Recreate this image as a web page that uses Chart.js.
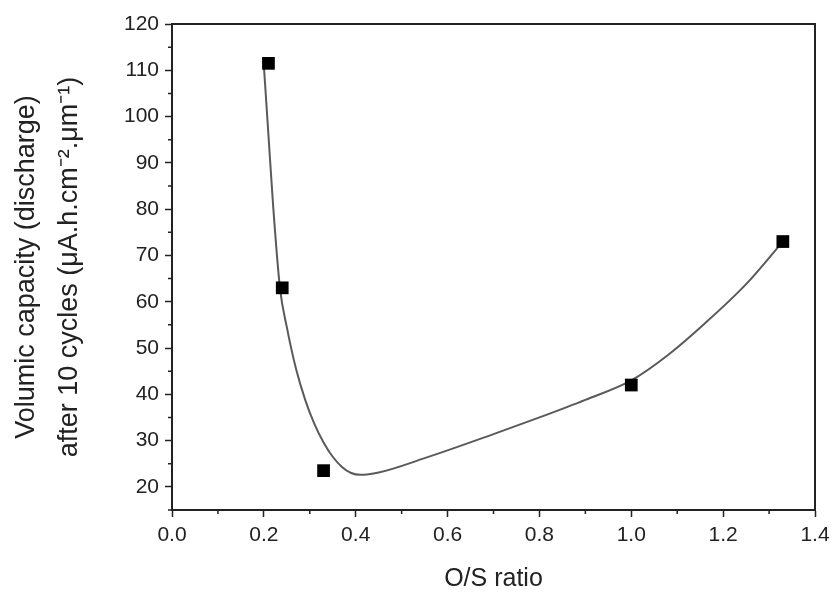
<!DOCTYPE html>
<html lang="en">
  <head>
    <meta charset="UTF-8" />
    <title>Volumic capacity vs O/S ratio</title>
    <script src="https://cdn.jsdelivr.net/npm/chart.js"></script>
    <style>
      html, body { margin: 0; padding: 0; background: #fff; }
      #wrap { width: 836px; height: 599px; }
    </style>
  </head>
  <body>
    <div id="wrap"><canvas id="capChart"></canvas></div>
    <script>
      // measured points
      var osRatio = [0.21, 0.24, 0.33, 1.0, 1.33];
      var capacity = [111.5, 63, 23.5, 42, 73];

      // fitted curve
      var fitX = [0.2, 0.21, 0.22, 0.235, 0.25, 0.27, 0.29, 0.31, 0.33, 0.35, 0.37, 0.39, 0.41, 0.45, 0.55, 0.7, 0.8, 0.9, 1.0, 1.08, 1.16, 1.25, 1.33];
      var fitY = [111, 96, 81, 63, 54.5, 45.5, 38.8, 33.6, 29.6, 26.5, 24.3, 23, 22.6, 23.1, 26.2, 31.4, 35, 38.8, 43, 48.5, 55.3, 63.8, 73];

      // axes
      var xTicks = [0, 0.2, 0.4, 0.6, 0.8, 1.0, 1.2, 1.4];
      var xMinor = [0.1, 0.3, 0.5, 0.7, 0.9, 1.1, 1.3];
      var yTicks = [20, 30, 40, 50, 60, 70, 80, 90, 100, 110, 120];
      var yMinor = [15, 25, 35, 45, 55, 65, 75, 85, 95, 105, 115];

      var font = "'Liberation Sans', Arial, sans-serif";
      var ink = "#222";

      // box around plot + short minor ticks
      var frame = {
        id: "frame",
        afterDraw: function (chart) {
          var ctx = chart.ctx;
          var a = chart.chartArea;
          var xs = chart.scales.x;
          var ys = chart.scales.y;
          ctx.save();
          ctx.strokeStyle = ink;
          ctx.lineWidth = 2;
          ctx.strokeRect(a.left, a.top, a.right - a.left, a.bottom - a.top);
          ctx.lineWidth = 1.5;
          ctx.beginPath();
          xMinor.forEach(function (v) {
            var px = xs.getPixelForValue(v);
            ctx.moveTo(px, a.bottom);
            ctx.lineTo(px, a.bottom + 4);
          });
          yMinor.forEach(function (v) {
            var py = ys.getPixelForValue(v);
            ctx.moveTo(a.left - 4, py);
            ctx.lineTo(a.left, py);
          });
          ctx.stroke();
          ctx.restore();
        },
      };

      var ctx = document.getElementById("capChart").getContext("2d");
      new Chart(ctx, {
        type: "scatter",
        data: {
          datasets: [
            {
              label: "measured",
              data: osRatio.map(function (x, i) { return { x: x, y: capacity[i] }; }),
              pointStyle: "rect",
              pointRadius: 9,
              backgroundColor: "#000",
              borderColor: "#000",
              borderWidth: 0,
              showLine: false,
            },
            {
              label: "fit",
              data: fitX.map(function (x, i) { return { x: x, y: fitY[i] }; }),
              showLine: true,
              pointRadius: 0,
              borderColor: "#5a5a5a",
              borderWidth: 2,
              cubicInterpolationMode: "monotone",
            },
          ],
        },
        options: {
          responsive: true,
          maintainAspectRatio: false,
          animation: false,
          layout: { padding: { top: 24, right: 21, bottom: 4, left: 0 } },
          plugins: { legend: { display: false }, tooltip: { enabled: false } },
          scales: {
            x: {
              type: "linear",
              min: 0,
              max: 1.4,
              afterBuildTicks: function (s) {
                s.ticks = xTicks.map(function (v) { return { value: v }; });
              },
              afterFit: function (s) { s.height = 85; },
              ticks: {
                color: ink,
                font: { family: font, size: 21 },
                padding: 6,
                maxRotation: 0,
                callback: function (v) { return Number(v).toFixed(1); },
              },
              grid: { drawOnChartArea: false, tickLength: 7, tickColor: ink, tickWidth: 1.5 },
              border: { color: ink, width: 2 },
              title: {
                display: true,
                text: "O/S ratio",
                color: ink,
                font: { family: font, size: 25 },
                padding: { top: 0, bottom: 1 },
              },
            },
            y: {
              type: "linear",
              min: 15,
              max: 120,
              afterBuildTicks: function (s) {
                s.ticks = yTicks.map(function (v) { return { value: v }; });
              },
              afterFit: function (s) { s.width = 172; },
              ticks: {
                color: ink,
                font: { family: font, size: 21 },
                padding: 6,
              },
              grid: { drawOnChartArea: false, tickLength: 7, tickColor: ink, tickWidth: 1.5 },
              border: { color: ink, width: 2 },
              title: {
                display: true,
                text: ["Volumic capacity (discharge)", "after 10 cycles (\u03bcA.h.cm\u207b\u00b2.\u03bcm\u207b\u00b9)"],
                color: ink,
                font: { family: font, size: 27, lineHeight: 1.6 },
                padding: { top: 5, bottom: 0 },
              },
            },
          },
        },
        plugins: [frame],
      });
    </script>
  </body>
</html>
